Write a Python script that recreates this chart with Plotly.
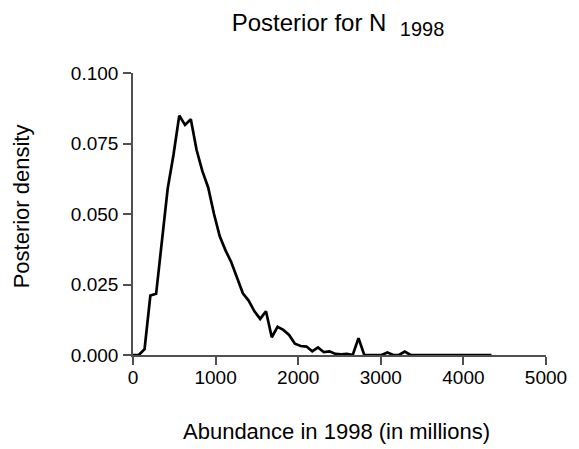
import plotly.graph_objects as go

abundance = [0, 70, 140, 210, 280, 350, 420, 490, 560, 630, 700, 770, 840, 910, 980,
             1050, 1120, 1190, 1260, 1330, 1400, 1470, 1540, 1610, 1680, 1750, 1820,
             1890, 1960, 2030, 2100, 2170, 2240, 2310, 2380, 2450, 2520, 2590, 2660,
             2730, 2800, 2870, 2940, 3010, 3080, 3150, 3220, 3290, 3360, 3430, 3500,
             3570, 3640, 3710, 3780, 3850, 3920, 3990, 4060, 4130, 4200, 4270, 4340]
density = [0.0, 0.0, 0.0021, 0.0211, 0.0217, 0.0395, 0.059, 0.0709, 0.0849, 0.0816,
           0.0836, 0.0727, 0.0652, 0.0594, 0.0501, 0.0421, 0.0371, 0.0329, 0.0270,
           0.0219, 0.0193, 0.0155, 0.0128, 0.0155, 0.0063, 0.0100, 0.0089, 0.0071,
           0.0040, 0.0032, 0.0030, 0.0013, 0.0027, 0.0010, 0.0013, 0.0004, 0.0002,
           0.0004, 0.0, 0.0060, 0.0, 0.0, 0.0, 0.0, 0.0009, 0.0, 0.0, 0.0012, 0.0,
           0.0, 0.0, 0.0, 0.0, 0.0, 0.0, 0.0, 0.0, 0.0, 0.0, 0.0, 0.0, 0.0, 0.0]

x_ticks = [0, 1000, 2000, 3000, 4000, 5000]
y_ticks = [0.0, 0.025, 0.05, 0.075, 0.1]
y_tick_labels = ["0.000", "0.025", "0.050", "0.075", "0.100"]

FONT = "Arial, Liberation Sans, sans-serif"
AXIS_COLOR = "#505050"
OFF = 8  # default page body margin

fig = go.Figure()
fig.add_trace(go.Scatter(x=abundance, y=density, mode="lines",
                         line=dict(color="black", width=2.7), cliponaxis=False,
                         showlegend=False))

fig.update_layout(
    width=579 - OFF, height=449 - OFF,
    margin=dict(l=133 - OFF, r=23, t=73 - OFF, b=94),
    paper_bgcolor="white", plot_bgcolor="white",
    font=dict(family=FONT, color="black", size=19),
    title=dict(text="Posterior for N&nbsp;&nbsp;<sub><span style='font-size:20px'>1998</span></sub>",
               x=(338 - OFF) / (579 - OFF),
               xref="container", xanchor="center", y=1 - (23 - OFF) / (449 - OFF),
               yanchor="middle", font=dict(family=FONT, size=24, color="black")),
    xaxis=dict(range=[0, 5000], tickvals=x_ticks, ticktext=[str(v) for v in x_ticks],
               showgrid=False, zeroline=False, showline=True, linecolor=AXIS_COLOR,
               linewidth=1.6, ticks="outside", ticklen=8, tickwidth=1.6,
               ticklabelstandoff=-4,
               tickcolor=AXIS_COLOR, tickfont=dict(size=19, family=FONT, color="black")),
    yaxis=dict(range=[0, 0.1], tickvals=y_ticks, ticktext=y_tick_labels,
               showgrid=False, zeroline=False, showline=True, linecolor=AXIS_COLOR,
               linewidth=1.6, ticks="outside", ticklen=8, tickwidth=1.6,
               ticklabelstandoff=1,
               tickcolor=AXIS_COLOR, tickfont=dict(size=19, family=FONT, color="black")),
    annotations=[
        dict(text="Abundance in 1998 (in millions)", xref="paper", yref="paper",
             x=(341 - 133.3) / 422.4, y=(354.5 - 431) / 281.3, xanchor="center",
             yanchor="middle", showarrow=False, font=dict(size=22, family=FONT, color="black")),
        dict(text="Posterior density", xref="paper", yref="paper",
             x=(19 - 133.3) / 422.4, y=(354.5 - 206) / 281.3, xanchor="center",
             yanchor="middle", textangle=-90, showarrow=False,
             font=dict(size=22, family=FONT, color="black")),
    ],
)

fig.write_html("out.html")
